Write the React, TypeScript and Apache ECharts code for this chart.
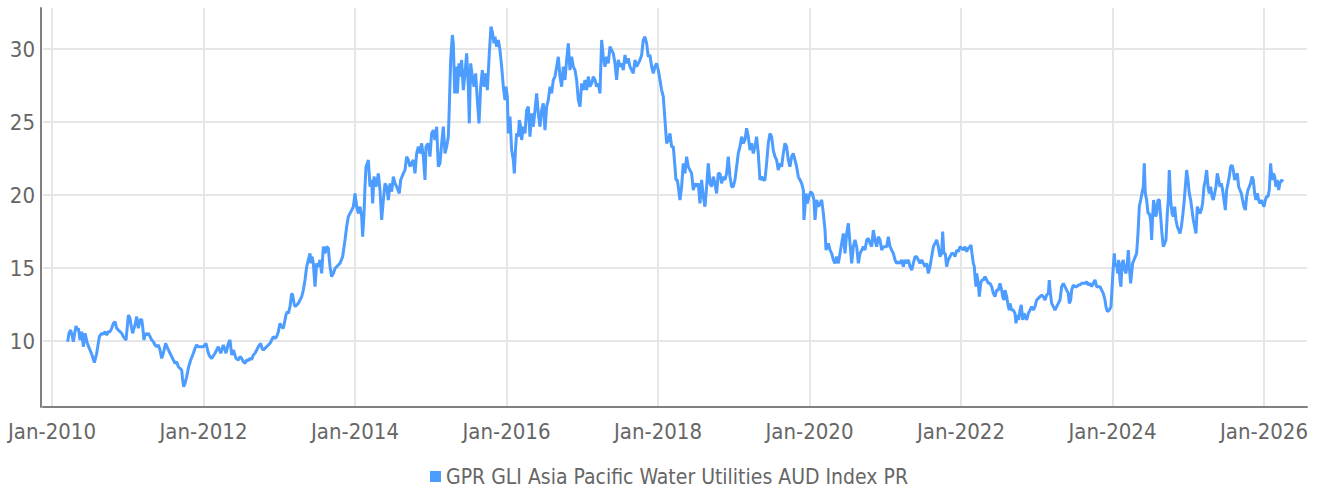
import React, { useEffect, useRef } from "react";
import * as echarts from "echarts";

const seriesName = "GPR GLI Asia Pacific Water Utilities AUD Index PR";
const xTickYears = [2010, 2012, 2014, 2016, 2018, 2020, 2022, 2024, 2026];
const yTicks = [10, 15, 20, 25, 30];

// dates as decimal years
const dates: number[] = [
  // 2010-2011
  2010.207, 2010.224, 2010.246, 2010.264, 2010.282, 2010.299, 2010.317, 2010.334, 2010.348, 2010.370,
  2010.392, 2010.414, 2010.436, 2010.466, 2010.502, 2010.528, 2010.559, 2010.590, 2010.625, 2010.656,
  2010.678, 2010.700, 2010.722, 2010.744, 2010.766, 2010.788, 2010.810, 2010.832, 2010.854, 2010.876,
  2010.898, 2010.920, 2010.942, 2010.977, 2010.994, 2011.008, 2011.030, 2011.047, 2011.065, 2011.082,
  2011.096, 2011.118, 2011.140, 2011.162, 2011.184, 2011.197, 2011.214, 2011.232, 2011.250, 2011.272,
  2011.294, 2011.316, 2011.338, 2011.360, 2011.382, 2011.404, 2011.426, 2011.448, 2011.470, 2011.500,
  2011.527, 2011.558, 2011.580, 2011.602, 2011.624, 2011.646, 2011.668, 2011.690, 2011.712, 2011.725,
  2011.738, 2011.756, 2011.778, 2011.804, 2011.831, 2011.866, 2011.888, 2011.910, 2011.932,
  // 2012-2013
  2011.954, 2011.998, 2012.033, 2012.064, 2012.086, 2012.108, 2012.152, 2012.196, 2012.227, 2012.262,
  2012.297, 2012.328, 2012.350, 2012.372, 2012.394, 2012.429, 2012.460, 2012.482, 2012.504, 2012.526,
  2012.548, 2012.570, 2012.592, 2012.614, 2012.636, 2012.658, 2012.680, 2012.702, 2012.724, 2012.755,
  2012.772, 2012.790, 2012.812, 2012.834, 2012.856, 2012.878, 2012.900, 2012.922, 2012.944, 2012.966,
  2012.988, 2013.010, 2013.032, 2013.054, 2013.076, 2013.089, 2013.107, 2013.120, 2013.142, 2013.164,
  2013.177, 2013.195, 2013.208, 2013.230, 2013.252, 2013.274, 2013.296, 2013.318, 2013.340, 2013.362,
  2013.384, 2013.406, 2013.419, 2013.432, 2013.450, 2013.472, 2013.494, 2013.516, 2013.538, 2013.560,
  2013.582, 2013.604, 2013.626, 2013.648, 2013.670, 2013.692, 2013.714, 2013.736, 2013.758, 2013.780,
  2013.802, 2013.837, 2013.868, 2013.890, 2013.912, 2013.934, 2013.956, 2013.978, 2014.000, 2014.022, 2014.044,
  // 2014-2015
  2014.066, 2014.088, 2014.101, 2014.119, 2014.132, 2014.145, 2014.163, 2014.176, 2014.198, 2014.220,
  2014.233, 2014.251, 2014.277, 2014.308, 2014.330, 2014.352, 2014.374, 2014.396, 2014.418, 2014.440,
  2014.462, 2014.484, 2014.506, 2014.528, 2014.550, 2014.585, 2014.603, 2014.638, 2014.660, 2014.682,
  2014.704, 2014.726, 2014.748, 2014.770, 2014.792, 2014.814, 2014.836, 2014.858, 2014.880, 2014.902,
  2014.924, 2014.937, 2014.968, 2014.990, 2015.012, 2015.034, 2015.056, 2015.078, 2015.100, 2015.122,
  2015.144, 2015.166, 2015.188, 2015.210, 2015.232, 2015.245, 2015.263, 2015.285, 2015.298, 2015.316,
  2015.333, 2015.351, 2015.373, 2015.386, 2015.408, 2015.430, 2015.452, 2015.474, 2015.496, 2015.509,
  2015.527, 2015.549, 2015.571, 2015.593, 2015.615, 2015.637, 2015.659, 2015.681, 2015.703, 2015.725,
  2015.747, 2015.773, 2015.795, 2015.817, 2015.835, 2015.848, 2015.870, 2015.892,
  // 2016-2017
  2015.914, 2015.936, 2015.958, 2015.980, 2015.993, 2016.011, 2016.024, 2016.046, 2016.068, 2016.090,
  2016.103, 2016.121, 2016.134, 2016.156, 2016.169, 2016.187, 2016.200, 2016.222, 2016.244, 2016.266,
  2016.288, 2016.310, 2016.332, 2016.354, 2016.376, 2016.398, 2016.420, 2016.442, 2016.464, 2016.486,
  2016.508, 2016.530, 2016.552, 2016.574, 2016.596, 2016.618, 2016.640, 2016.662, 2016.684, 2016.706,
  2016.728, 2016.750, 2016.772, 2016.794, 2016.816, 2016.838, 2016.860, 2016.882, 2016.904, 2016.926,
  2016.948, 2016.970, 2016.992, 2017.014, 2017.036, 2017.058, 2017.080, 2017.102, 2017.124, 2017.146,
  2017.168, 2017.190, 2017.212, 2017.234, 2017.256, 2017.278, 2017.300, 2017.322, 2017.344, 2017.366,
  2017.388, 2017.410, 2017.432, 2017.454, 2017.476, 2017.498, 2017.520, 2017.542, 2017.564, 2017.586,
  2017.608, 2017.630, 2017.652, 2017.674, 2017.696, 2017.718, 2017.740, 2017.762, 2017.784, 2017.806,
  2017.828, 2017.850, 2017.872,
  // 2018-2019
  2017.894, 2017.916, 2017.938, 2017.960, 2017.982, 2018.004, 2018.026, 2018.048, 2018.070, 2018.092,
  2018.114, 2018.136, 2018.158, 2018.180, 2018.202, 2018.224, 2018.237, 2018.255, 2018.268, 2018.290,
  2018.312, 2018.334, 2018.356, 2018.378, 2018.400, 2018.422, 2018.444, 2018.466, 2018.488, 2018.510,
  2018.532, 2018.554, 2018.576, 2018.598, 2018.620, 2018.642, 2018.664, 2018.686, 2018.708, 2018.730,
  2018.752, 2018.774, 2018.796, 2018.818, 2018.840, 2018.862, 2018.884, 2018.906, 2018.928, 2018.950,
  2018.972, 2018.994, 2019.016, 2019.038, 2019.060, 2019.082, 2019.104, 2019.126, 2019.148, 2019.170,
  2019.192, 2019.214, 2019.236, 2019.258, 2019.280, 2019.302, 2019.324, 2019.346, 2019.368, 2019.390,
  2019.412, 2019.434, 2019.456, 2019.478, 2019.500, 2019.522, 2019.544, 2019.566, 2019.588, 2019.610,
  2019.632, 2019.654, 2019.676, 2019.698, 2019.720, 2019.742, 2019.764, 2019.786, 2019.808, 2019.830,
  2019.852,
  // 2020-2021
  2019.875, 2019.897, 2019.919, 2019.927, 2019.941, 2019.954, 2019.971, 2019.993, 2020.015, 2020.037,
  2020.059, 2020.073, 2020.095, 2020.117, 2020.139, 2020.161, 2020.183, 2020.205, 2020.218, 2020.249,
  2020.271, 2020.293, 2020.315, 2020.337, 2020.359, 2020.381, 2020.403, 2020.425, 2020.447, 2020.469,
  2020.491, 2020.513, 2020.535, 2020.557, 2020.579, 2020.601, 2020.623, 2020.645, 2020.667, 2020.689,
  2020.711, 2020.733, 2020.755, 2020.777, 2020.799, 2020.821, 2020.843, 2020.865, 2020.887, 2020.909,
  2020.931, 2020.953, 2020.975, 2020.997, 2021.019, 2021.041, 2021.063, 2021.085, 2021.107, 2021.129,
  2021.151, 2021.173, 2021.195, 2021.217, 2021.239, 2021.261, 2021.283, 2021.305, 2021.327, 2021.349,
  2021.371, 2021.393, 2021.415, 2021.437, 2021.459, 2021.481, 2021.503, 2021.525, 2021.547, 2021.569,
  2021.591, 2021.613, 2021.635, 2021.657, 2021.679, 2021.701, 2021.723, 2021.745, 2021.758, 2021.775,
  2021.793, 2021.810, 2021.832,
  // 2022-2023
  2021.855, 2021.877, 2021.899, 2021.921, 2021.943, 2021.965, 2021.987, 2022.009, 2022.031, 2022.053,
  2022.075, 2022.097, 2022.119, 2022.132, 2022.145, 2022.163, 2022.176, 2022.185, 2022.198, 2022.207,
  2022.229, 2022.242, 2022.260, 2022.277, 2022.295, 2022.317, 2022.339, 2022.361, 2022.383, 2022.405,
  2022.427, 2022.449, 2022.471, 2022.493, 2022.515, 2022.537, 2022.550, 2022.568, 2022.581, 2022.603,
  2022.625, 2022.638, 2022.647, 2022.669, 2022.691, 2022.713, 2022.726, 2022.744, 2022.761, 2022.779,
  2022.796, 2022.814, 2022.832, 2022.849, 2022.867, 2022.889, 2022.911, 2022.933, 2022.955, 2022.977,
  2022.999, 2023.021, 2023.043, 2023.065, 2023.087, 2023.109, 2023.131, 2023.153, 2023.166, 2023.175,
  2023.197, 2023.219, 2023.241, 2023.263, 2023.285, 2023.307, 2023.329, 2023.351, 2023.373, 2023.395,
  2023.417, 2023.430, 2023.448, 2023.461, 2023.483, 2023.505, 2023.527, 2023.549, 2023.571, 2023.593,
  2023.615, 2023.637, 2023.659, 2023.681, 2023.703, 2023.725, 2023.747, 2023.769, 2023.791, 2023.813,
  // 2024-2026
  2023.835, 2023.857, 2023.879, 2023.901, 2023.914, 2023.932, 2023.958, 2023.980, 2023.993, 2024.011,
  2024.024, 2024.037, 2024.055, 2024.068, 2024.081, 2024.099, 2024.112, 2024.125, 2024.143, 2024.161,
  2024.178, 2024.196, 2024.209, 2024.222, 2024.240, 2024.253, 2024.266, 2024.284, 2024.301, 2024.319,
  2024.337, 2024.354, 2024.372, 2024.389, 2024.407, 2024.420, 2024.433, 2024.451, 2024.469, 2024.486,
  2024.504, 2024.517, 2024.530, 2024.543, 2024.557, 2024.570, 2024.583, 2024.601, 2024.618, 2024.636,
  2024.653, 2024.671, 2024.689, 2024.706, 2024.724, 2024.737, 2024.750, 2024.768, 2024.786, 2024.803,
  2024.821, 2024.838, 2024.856, 2024.874, 2024.891, 2024.909, 2024.926, 2024.944, 2024.962, 2024.979,
  2024.997, 2025.014, 2025.032, 2025.050, 2025.067, 2025.085, 2025.102, 2025.120, 2025.137, 2025.155,
  2025.173, 2025.190, 2025.208, 2025.226, 2025.243, 2025.261, 2025.278, 2025.296, 2025.314, 2025.331,
  2025.349, 2025.366, 2025.384, 2025.402, 2025.419, 2025.437, 2025.454, 2025.472, 2025.490, 2025.507,
  2025.525, 2025.542, 2025.560, 2025.578, 2025.595, 2025.613, 2025.630, 2025.648, 2025.666, 2025.683,
  2025.701, 2025.718, 2025.736, 2025.754, 2025.771, 2025.789, 2025.806, 2025.824, 2025.842, 2025.859,
  2025.877, 2025.894, 2025.912, 2025.930, 2025.947, 2025.965, 2025.982, 2026.000, 2026.018, 2026.035,
  2026.053, 2026.070, 2026.088, 2026.106, 2026.123, 2026.141, 2026.158, 2026.176, 2026.194, 2026.211,
  2026.233, 2026.251,
];

const values: number[] = [
  // 2010-2011
  9.95, 10.53, 10.75, 10.41, 9.95, 10.53, 11.03, 10.75, 10.87, 10.07,
  10.64, 9.61, 10.53, 9.84, 9.38, 9.04, 8.52, 9.16, 10.30, 10.53,
  10.46, 10.64, 10.41, 10.64, 10.64, 10.87, 11.21, 11.32, 10.87, 10.75,
  10.64, 10.53, 10.30, 10.07, 10.98, 11.78, 11.55, 10.98, 10.53, 10.87,
  11.10, 11.67, 10.87, 11.44, 11.48, 10.98, 10.07, 10.53, 10.41, 10.53,
  10.30, 10.07, 9.95, 9.73, 9.61, 9.73, 9.38, 8.81, 9.16, 9.84,
  9.50, 9.16, 8.93, 8.70, 8.47, 8.58, 8.24, 8.13, 8.01, 7.33,
  6.87, 7.10, 7.56, 8.24, 8.70, 9.16, 9.50, 9.73, 9.61,
  // 2012-2013
  9.61, 9.61, 9.84, 9.16, 8.93, 8.81, 9.16, 9.61, 9.16, 9.73,
  9.16, 9.84, 10.07, 9.04, 9.38, 8.81, 8.70, 8.93, 8.81, 8.58,
  8.47, 8.70, 8.65, 8.81, 8.74, 9.04, 9.16, 9.38, 9.61, 9.84,
  9.50, 9.38, 9.50, 9.61, 9.73, 9.84, 10.07, 10.30, 10.18, 10.30,
  10.64, 11.21, 10.98, 10.87, 11.44, 11.78, 12.01, 11.89, 12.35, 13.26,
  13.15, 12.58, 12.35, 12.47, 12.58, 12.81, 13.04, 13.49, 14.18, 15.09,
  15.55, 16.00, 15.32, 15.78, 15.32, 13.72, 15.32, 15.09, 15.55, 14.63,
  16.46, 16.00, 16.46, 16.35, 15.09, 14.41, 14.63, 14.97, 15.09, 15.21,
  15.32, 15.78, 16.92, 17.83, 18.52, 18.74, 18.97, 19.20, 20.11, 19.20, 18.74,
  // 2014-2015
  19.20, 18.52, 17.15, 18.74, 20.57, 21.94, 22.17, 22.40, 20.57, 21.03,
  19.43, 21.26, 20.57, 21.48, 20.34, 18.29, 19.66, 20.80, 20.57, 19.66,
  20.80, 20.23, 21.26, 20.80, 20.57, 20.11, 21.03, 21.48, 21.71, 22.63,
  22.40, 21.94, 22.17, 22.40, 21.48, 22.85, 23.31, 22.85, 23.54, 22.63,
  21.03, 23.31, 23.54, 22.63, 24.22, 24.45, 23.77, 24.68, 21.94, 22.17,
  23.54, 24.68, 22.85, 23.31, 24.00, 26.05, 29.25, 30.96, 30.39, 26.96,
  28.79, 26.96, 29.02, 28.11, 29.25, 27.19, 28.33, 29.70, 27.42, 24.91,
  29.02, 28.11, 27.42, 28.33, 26.51, 24.91, 27.42, 28.56, 27.42, 28.33,
  27.19, 29.70, 31.53, 31.07, 30.39, 30.84, 30.16, 30.62,
  // 2016-2017
  29.93, 28.79, 27.42, 26.51, 27.42, 26.74, 24.22, 25.37, 23.08, 22.40,
  21.48, 23.31, 24.22, 24.00, 25.14, 24.68, 23.77, 24.68, 24.22, 25.82,
  26.05, 24.00, 25.59, 24.68, 25.82, 26.96, 25.59, 24.68, 25.82, 26.28,
  24.45, 26.05, 26.51, 27.42, 26.96, 27.88, 28.11, 28.79, 29.47, 28.11,
  27.42, 28.79, 27.88, 29.25, 30.39, 28.56, 29.47, 28.79, 28.56, 27.88,
  26.51, 26.05, 27.65, 27.19, 27.88, 27.19, 28.11, 27.42, 27.65, 28.11,
  27.88, 27.42, 27.65, 26.96, 30.62, 29.47, 28.79, 29.47, 29.02, 30.16,
  29.93, 29.70, 29.02, 27.88, 29.25, 28.79, 29.02, 28.56, 29.59, 29.02,
  29.36, 28.79, 28.56, 28.33, 29.25, 28.79, 29.02, 29.25, 29.59, 30.62,
  30.84, 30.39, 29.47,
  // 2018-2019
  29.59, 28.79, 28.33, 28.79, 29.02, 28.56, 27.88, 27.19, 26.74, 25.14,
  23.54, 23.77, 24.22, 23.31, 23.31, 21.94, 21.03, 21.03, 20.57, 19.66,
  20.57, 22.17, 21.48, 22.63, 21.94, 21.71, 21.48, 20.34, 20.80, 20.57,
  20.80, 19.43, 21.03, 19.89, 19.20, 20.57, 22.17, 20.80, 20.57, 21.26,
  20.80, 20.11, 21.48, 21.48, 20.80, 21.26, 21.03, 21.48, 22.63, 21.26,
  20.57, 20.57, 21.03, 21.94, 22.85, 23.31, 24.00, 23.54, 23.77, 24.57,
  24.00, 23.08, 23.54, 22.85, 23.31, 24.00, 22.85, 21.03, 21.26, 21.03,
  21.03, 22.17, 23.54, 24.22, 24.00, 23.08, 22.63, 22.40, 21.71, 22.17,
  21.94, 22.85, 23.54, 23.31, 22.40, 21.94, 22.63, 22.85, 22.40, 21.94,
  21.26,
  // 2020-2021
  21.03, 20.80, 20.34, 18.29, 19.20, 20.11, 19.43, 19.89, 20.23, 20.11,
  19.66, 18.29, 19.66, 19.20, 19.43, 19.66, 18.74, 17.60, 16.23, 16.69,
  16.23, 16.00, 15.55, 15.32, 15.78, 15.32, 16.00, 16.69, 17.37, 16.00,
  17.37, 18.06, 16.69, 15.32, 16.46, 16.92, 16.46, 15.32, 16.00, 16.23,
  16.46, 16.23, 16.92, 17.03, 16.69, 16.46, 17.60, 16.92, 16.46, 17.15,
  16.92, 16.23, 16.46, 16.46, 16.46, 17.15, 16.46, 16.23, 16.00, 15.55,
  15.32, 15.43, 15.32, 15.55, 15.09, 15.55, 15.32, 15.55, 15.09, 14.86,
  15.32, 15.78, 15.78, 15.55, 15.32, 15.55, 15.32, 15.09, 15.32, 14.63,
  15.09, 15.78, 16.46, 16.69, 16.92, 16.46, 15.78, 16.00, 17.49, 16.00,
  16.00, 15.09, 15.55,
  // 2022-2023
  15.78, 16.00, 16.00, 15.78, 16.23, 16.12, 16.46, 16.35, 16.23, 16.46,
  16.12, 16.35, 16.46, 16.58, 16.00, 15.32, 15.09, 14.41, 13.72, 14.63,
  13.95, 13.04, 13.95, 14.18, 14.18, 14.41, 14.18, 13.95, 13.95, 13.72,
  13.26, 13.04, 13.49, 13.49, 13.95, 13.49, 13.04, 12.81, 13.49, 13.04,
  12.35, 12.12, 12.58, 12.12, 12.12, 11.89, 11.21, 11.78, 11.44, 12.12,
  12.47, 11.44, 11.89, 11.67, 11.44, 11.89, 12.12, 12.35, 12.12, 12.35,
  12.81, 12.92, 13.04, 13.15, 13.04, 12.81, 13.15, 13.26, 14.18, 13.49,
  12.58, 12.35, 12.12, 12.35, 12.58, 12.81, 13.72, 13.95, 13.72, 13.49,
  13.26, 12.58, 12.81, 13.49, 13.84, 13.72, 13.72, 13.84, 13.84, 13.95,
  13.95, 13.95, 14.06, 13.84, 13.95, 13.72, 13.95, 14.18, 13.72, 13.72,
  // 2024-2026
  13.72, 13.49, 13.26, 12.81, 12.35, 12.01, 12.12, 12.35, 13.49, 15.09,
  16.00, 15.09, 15.32, 14.63, 15.55, 14.18, 13.72, 15.32, 15.55, 14.86,
  14.63, 15.32, 16.23, 15.09, 13.95, 14.63, 15.32, 15.55, 15.78, 16.00,
  17.37, 19.20, 19.66, 20.11, 20.57, 22.17, 20.11, 19.66, 18.74, 18.74,
  18.29, 16.92, 18.52, 19.66, 19.20, 18.52, 18.74, 19.66, 19.66, 18.52,
  17.37, 16.46, 16.69, 16.92, 18.74, 19.66, 21.71, 19.66, 18.74, 18.52,
  19.20, 18.29, 17.83, 17.60, 17.37, 17.83, 18.52, 19.43, 20.57, 21.71,
  21.03, 20.11, 19.66, 18.97, 18.29, 17.83, 17.37, 19.20, 18.97, 18.74,
  18.97, 19.43, 20.57, 21.03, 21.71, 20.57, 20.11, 20.57, 19.89, 19.66,
  20.11, 20.57, 21.48, 21.03, 20.57, 20.80, 20.34, 19.66, 18.97, 20.34,
  20.80, 21.26, 21.94, 22.05, 21.71, 21.03, 21.26, 21.48, 20.57, 20.34,
  20.11, 19.66, 19.20, 18.97, 19.89, 20.34, 20.57, 20.80, 21.26, 21.03,
  20.11, 19.66, 20.11, 19.66, 19.43, 19.66, 19.43, 19.20, 19.66, 19.89,
  19.89, 20.34, 22.17, 21.03, 21.48, 21.26, 20.57, 21.03, 20.34, 20.80,
  21.03, 20.91,
];

const FONT = "'Liberation Sans Narrow', 'DejaVu Sans Condensed', 'Roboto', sans-serif";
const TEXT = "#666666";
const LINE = "#4d9cff";

export default function App() {
  const ref = useRef<HTMLDivElement>(null);
  useEffect(() => {
    document.body.style.margin = "0";
    const chart = echarts.init(ref.current as HTMLDivElement, null, { renderer: "svg" });
    const n = Math.min(dates.length, values.length);
    const data: [number, number][] = [];
    for (let i = 0; i < n; i++) data.push([dates[i], values[i]]);
    chart.setOption({
      animation: false,
      textStyle: { fontFamily: FONT },
      grid: { left: 43, right: 10, top: 8, bottom: 86, containLabel: false },
      legend: {
        data: [seriesName],
        left: 425,
        top: 461,
        icon: "rect",
        itemWidth: 11,
        itemHeight: 11,
        textStyle: { fontFamily: FONT, fontSize: 21, color: TEXT },
      },
      xAxis: {
        type: "value",
        min: 2009.881,
        max: 2026.568,
        axisLine: { show: true, onZero: false, lineStyle: { color: "#808080", width: 2 } },
        axisTick: { show: false, customValues: xTickYears },
        axisLabel: {
          customValues: xTickYears,
          formatter: (v: number) => "Jan-" + Math.round(v),
          color: TEXT,
          fontSize: 22,
          fontFamily: FONT,
          margin: 13,
        },
        splitLine: { show: true, lineStyle: { color: "#e6e6e6", width: 2 } },
      },
      yAxis: {
        type: "value",
        min: 5.48,
        max: 32.81,
        offset: 2,
        axisLine: { show: true, onZero: false, lineStyle: { color: "#808080", width: 2 } },
        axisTick: { show: false, customValues: yTicks },
        axisLabel: {
          customValues: yTicks,
          color: TEXT,
          fontSize: 22,
          fontFamily: FONT,
          margin: 6,
        },
        splitLine: { show: true, lineStyle: { color: "#e6e6e6", width: 2 } },
      },
      series: [
        {
          name: seriesName,
          type: "line",
          data,
          symbol: "none",
          showSymbol: false,
          lineStyle: { color: LINE, width: 3 },
          itemStyle: { color: LINE },
        },
      ],
    });
    return () => chart.dispose();
  }, []);
  return <div ref={ref} style={{ width: 1317, height: 493 }} />;
}
